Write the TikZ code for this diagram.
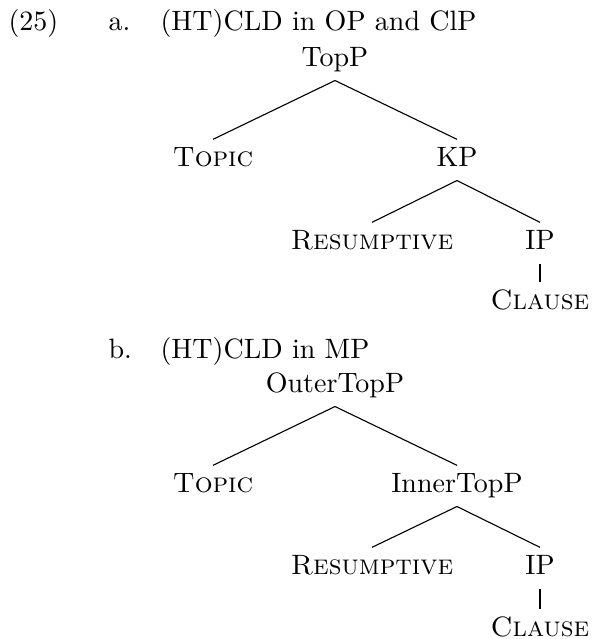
\documentclass[tikz,border=0pt]{standalone}
\usetikzlibrary{positioning}
\tikzstyle{cat} = [text height=7pt, text depth=2.3pt, inner sep=2.5pt, anchor=base]
\tikzstyle{branch} = [black, line width=0.4pt]
\tikzstyle{caption} = [anchor=base west, inner sep=0pt]

\begin{document}
\begin{tikzpicture}[x=0.357pt, y=-0.357pt]
\useasboundingbox (0,0) rectangle (592,639);

% example number and captions
\node(num)[caption] at (8,30) {(25)};
\node(capA)[caption] at (108,30) {a.};
\node(headA)[caption] at (160,30) {(HT)CLD in OP and ClP};
\node(capB)[caption] at (108,358) {b.};
\node(headB)[caption] at (160,358) {(HT)CLD in MP};

% tree a
\node(aTop)[cat] at (335,66.5) {TopP};
\node(aTopic)[cat] at (213,166.5) {\textsc{Topic}};
\node(aKP)[cat] at (457,166.5) {KP};
\node(aRes)[cat] at (372,249.5) {\textsc{Resumptive}};
\node(aIP)[cat] at (540,249.5) {IP};
\node(aClause)[cat] at (540,309.5) {\textsc{Clause}};

\draw [branch] (aTop.south) -- (aTopic.north);
\draw [branch] (aTop.south) -- (aKP.north);
\draw [branch] (aKP.south) -- (aRes.north);
\draw [branch] (aKP.south) -- (aIP.north);
\draw [branch] (aIP.south) -- (aClause.north);

% tree b
\node(bOuter)[cat] at (335,392.5) {OuterTopP};
\node(bTopic)[cat] at (213,492.5) {\textsc{Topic}};
\node(bInner)[cat] at (457,492.5) {InnerTopP};
\node(bRes)[cat] at (372,574.5) {\textsc{Resumptive}};
\node(bIP)[cat] at (540,574.5) {IP};
\node(bClause)[cat] at (540,636.5) {\textsc{Clause}};

\draw [branch] (bOuter.south) -- (bTopic.north);
\draw [branch] (bOuter.south) -- (bInner.north);
\draw [branch] (bInner.south) -- (bRes.north);
\draw [branch] (bInner.south) -- (bIP.north);
\draw [branch] (bIP.south) -- (bClause.north);
\end{tikzpicture}
\end{document}
